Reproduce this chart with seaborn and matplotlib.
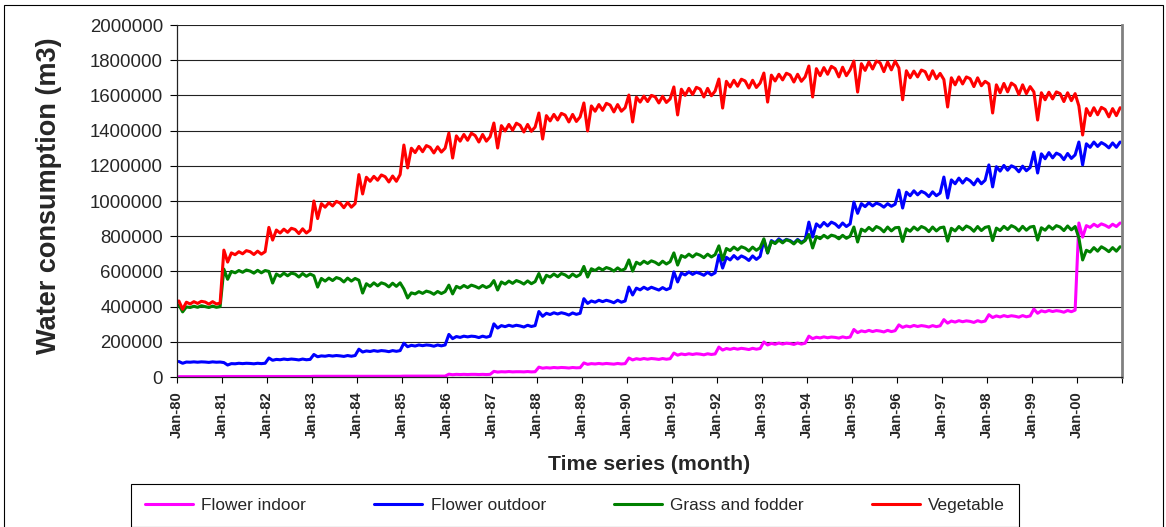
import numpy as np
import pandas as pd
import matplotlib
matplotlib.use("Agg")
import matplotlib.pyplot as plt
import seaborn as sns
from matplotlib.ticker import FuncFormatter, FixedLocator
from matplotlib.patches import Rectangle
from matplotlib.lines import Line2D

# ---------------- data (values in thousand m3, one row per year Jan..Dec) ----------------
series_names = ["Flower indoor", "Flower outdoor", "Grass and fodder", "Vegetable"]
series_colors = ["#FF00FF", "#0000FF", "#008000", "#FF0000"]
year_labels = ["Jan-80", "Jan-81", "Jan-82", "Jan-83", "Jan-84", "Jan-85", "Jan-86",
               "Jan-87", "Jan-88", "Jan-89", "Jan-90", "Jan-91", "Jan-92", "Jan-93",
               "Jan-94", "Jan-95", "Jan-96", "Jan-97", "Jan-98", "Jan-99", "Jan-00"]
y_ticks = [0, 200000, 400000, 600000, 800000, 1000000, 1200000, 1400000, 1600000,
           1800000, 2000000]

flower_indoor_k = [
    [2, 2, 2, 2, 2, 2, 2, 2, 2, 2, 2, 2],
    [3, 3, 3, 3, 3, 3, 3, 3, 3, 3, 3, 3],
    [3, 3, 3, 3, 3, 3, 3, 3, 3, 3, 3, 3],
    [4, 4, 4, 4, 4, 4, 4, 4, 4, 4, 4, 4],
    [4, 4, 4, 4, 4, 4, 4, 4, 4, 4, 4, 4],
    [5, 5, 5, 5, 5, 5, 5, 5, 5, 5, 5, 5],
    [16, 13, 15, 14, 15, 14, 15, 15, 14, 15, 14, 15],
    [32, 28, 30, 29, 31, 29, 30, 30, 29, 31, 29, 30],
    [56, 50, 53, 51, 54, 52, 54, 53, 51, 54, 52, 53],
    [80, 72, 76, 74, 77, 74, 77, 75, 73, 77, 74, 76],
    [108, 97, 104, 100, 105, 101, 105, 103, 100, 105, 101, 104],
    [136, 124, 131, 127, 132, 128, 132, 130, 126, 132, 128, 131],
    [170, 153, 162, 157, 163, 158, 163, 160, 156, 163, 158, 162],
    [199, 182, 191, 186, 193, 187, 192, 190, 185, 193, 187, 192],
    [232, 218, 226, 222, 228, 223, 227, 225, 221, 228, 223, 227],
    [270, 252, 262, 257, 265, 258, 264, 261, 256, 265, 258, 263],
    [296, 282, 290, 285, 293, 287, 292, 289, 284, 292, 286, 291],
    [326, 306, 318, 312, 320, 314, 319, 316, 310, 320, 313, 318],
    [354, 338, 347, 341, 349, 343, 348, 345, 340, 349, 342, 347],
    [386, 362, 376, 370, 378, 372, 377, 374, 368, 378, 371, 380],
    [875, 795, 860, 850, 868, 855, 870, 862, 850, 868, 855, 875],
]

flower_outdoor_k = [
    [88, 78, 85, 84, 86, 84, 86, 85, 83, 86, 84, 85],
    [82, 68, 76, 75, 78, 76, 78, 77, 75, 78, 76, 78],
    [108, 95, 100, 98, 102, 99, 102, 100, 97, 102, 98, 100],
    [128, 115, 120, 118, 122, 119, 122, 120, 117, 122, 118, 122],
    [158, 142, 148, 145, 150, 146, 150, 148, 144, 150, 146, 150],
    [192, 172, 180, 176, 182, 178, 182, 180, 175, 182, 177, 182],
    [242, 218, 230, 225, 232, 228, 232, 230, 224, 232, 226, 232],
    [302, 278, 292, 286, 294, 288, 294, 290, 284, 294, 287, 292],
    [372, 345, 362, 355, 365, 358, 365, 360, 352, 364, 356, 362],
    [445, 418, 432, 425, 436, 428, 436, 430, 422, 436, 425, 432],
    [511, 466, 505, 495, 510, 498, 510, 502, 494, 508, 496, 505],
    [597, 540, 590, 580, 597, 583, 595, 588, 578, 595, 580, 592],
    [693, 619, 680, 665, 690, 670, 688, 678, 662, 688, 668, 685],
    [778, 705, 775, 762, 785, 768, 782, 775, 760, 782, 765, 778],
    [880, 795, 870, 852, 878, 858, 880, 870, 850, 875, 855, 870],
    [994, 930, 985, 968, 990, 972, 988, 980, 965, 985, 970, 982],
    [1062, 960, 1050, 1030, 1058, 1035, 1055, 1045, 1025, 1052, 1030, 1045],
    [1136, 1017, 1120, 1098, 1130, 1102, 1128, 1115, 1092, 1125, 1098, 1118],
    [1205, 1080, 1195, 1170, 1202, 1175, 1200, 1190, 1166, 1198, 1172, 1190],
    [1278, 1159, 1268, 1240, 1275, 1245, 1272, 1262, 1235, 1270, 1242, 1262],
    [1335, 1205, 1325, 1305, 1335, 1310, 1332, 1320, 1302, 1330, 1305, 1335],
]

grass_fodder_k = [
    [410, 370, 398, 395, 402, 396, 405, 400, 395, 403, 396, 400],
    [613, 555, 600, 592, 605, 595, 608, 602, 590, 606, 592, 605],
    [600, 534, 585, 572, 590, 575, 590, 585, 568, 588, 572, 585],
    [575, 511, 560, 545, 562, 548, 565, 558, 540, 562, 545, 560],
    [550, 477, 530, 515, 535, 518, 535, 528, 512, 533, 515, 535],
    [500, 449, 478, 472, 485, 475, 488, 482, 470, 486, 474, 485],
    [522, 472, 515, 505, 520, 508, 522, 515, 505, 520, 508, 518],
    [548, 494, 540, 528, 545, 532, 548, 540, 528, 546, 530, 542],
    [588, 534, 578, 568, 585, 570, 588, 580, 565, 585, 570, 582],
    [628, 568, 615, 605, 620, 608, 622, 615, 602, 620, 605, 615],
    [665, 602, 652, 640, 658, 645, 660, 652, 638, 658, 642, 655],
    [705, 636, 690, 680, 698, 682, 700, 692, 678, 698, 682, 695],
    [745, 665, 730, 718, 738, 722, 740, 732, 716, 738, 720, 735],
    [785, 705, 770, 758, 778, 762, 780, 772, 756, 778, 760, 775],
    [810, 733, 798, 786, 805, 790, 806, 800, 785, 805, 788, 800],
    [852, 767, 840, 828, 850, 832, 855, 845, 825, 852, 830, 848],
    [850, 770, 842, 828, 852, 835, 855, 846, 826, 852, 830, 848],
    [852, 772, 845, 830, 855, 836, 858, 848, 828, 855, 832, 850],
    [855, 775, 846, 832, 856, 838, 860, 850, 830, 856, 834, 852],
    [856, 778, 848, 834, 858, 840, 860, 852, 832, 858, 836, 855],
    [790, 665, 720, 710, 735, 715, 740, 728, 712, 735, 715, 740],
]

vegetable_k = [
    [432, 385, 425, 415, 428, 418, 430, 426, 414, 428, 415, 420],
    [721, 653, 705, 695, 712, 700, 718, 712, 696, 715, 698, 712],
    [850, 778, 835, 818, 840, 822, 845, 838, 815, 842, 818, 835],
    [1000, 900, 985, 965, 990, 972, 998, 988, 962, 992, 965, 985],
    [1150, 1040, 1135, 1112, 1140, 1118, 1148, 1138, 1108, 1142, 1112, 1150],
    [1318, 1188, 1300, 1275, 1310, 1280, 1315, 1305, 1273, 1308, 1278, 1300],
    [1386, 1244, 1370, 1340, 1378, 1345, 1385, 1372, 1335, 1378, 1340, 1365],
    [1443, 1301, 1428, 1398, 1435, 1402, 1442, 1430, 1392, 1435, 1396, 1420],
    [1500, 1352, 1485, 1455, 1492, 1460, 1498, 1488, 1449, 1492, 1452, 1478],
    [1557, 1398, 1540, 1510, 1548, 1515, 1555, 1545, 1506, 1548, 1510, 1530],
    [1602, 1449, 1590, 1562, 1596, 1565, 1600, 1592, 1557, 1595, 1560, 1580],
    [1648, 1489, 1635, 1600, 1640, 1605, 1646, 1636, 1591, 1640, 1598, 1625],
    [1693, 1528, 1680, 1648, 1686, 1652, 1692, 1682, 1642, 1686, 1645, 1670],
    [1727, 1562, 1715, 1682, 1720, 1688, 1726, 1716, 1676, 1720, 1680, 1705],
    [1767, 1591, 1752, 1712, 1758, 1720, 1765, 1752, 1705, 1760, 1712, 1745],
    [1795, 1619, 1780, 1742, 1790, 1750, 1795, 1785, 1735, 1790, 1745, 1795],
    [1756, 1575, 1740, 1700, 1738, 1705, 1744, 1735, 1690, 1740, 1695, 1725],
    [1690, 1534, 1700, 1660, 1705, 1665, 1705, 1695, 1650, 1700, 1655, 1680],
    [1665, 1500, 1660, 1615, 1668, 1620, 1670, 1655, 1605, 1660, 1610, 1650],
    [1620, 1460, 1615, 1575, 1618, 1580, 1620, 1610, 1565, 1615, 1570, 1610],
    [1540, 1375, 1525, 1485, 1530, 1490, 1532, 1520, 1478, 1525, 1485, 1530],
]

# ---------------- build long table ----------------
all_series = [flower_indoor_k, flower_outdoor_k, grass_fodder_k, vegetable_k]
frames = []
for name, rows in zip(series_names, all_series):
    vals = np.array(rows, dtype=float).ravel() * 1000.0
    frames.append(pd.DataFrame({"month": np.arange(len(vals)) + 0.5,
                                "value": vals, "series": name}))
df = pd.concat(frames, ignore_index=True)
n_months = len(np.array(flower_indoor_k).ravel())

# ---------------- style ----------------
sns.set_style("white")
plt.rcParams["font.family"] = ["Liberation Sans", "DejaVu Sans"]

W, H = 1166, 527
fig = plt.figure(figsize=(W / 100, H / 100), dpi=100)
L, R, T, B = 177, 1122, 25, 377
ax = fig.add_axes([L / W, 1 - B / H, (R - L) / W, (B - T) / H])

sns.lineplot(data=df, x="month", y="value", hue="series", hue_order=series_names,
             palette=series_colors, linewidth=2.2, estimator=None, sort=False,
             legend=False, ax=ax)

ax.set_xlim(0, n_months)
ax.set_ylim(0, 2000000)

# x ticks: every January, plus closing tick
xt = list(range(0, n_months + 1, 12))
ax.xaxis.set_major_locator(FixedLocator(xt))
ax.set_xticklabels(year_labels + [""][: len(xt) - len(year_labels)],
                   rotation=90, fontweight="bold", fontsize=10.6)
ax.yaxis.set_major_locator(FixedLocator(y_ticks))
ax.yaxis.set_major_formatter(FuncFormatter(lambda v, p: f"{int(round(v))}"))
ax.tick_params(axis="y", labelsize=13.4, length=5, width=0.8, pad=5, direction="out",
               left=True, color="black")
ax.tick_params(axis="x", length=4.5, width=0.8, pad=6, direction="out", bottom=True,
               color="black")

ax.yaxis.grid(True, color="#222222", linewidth=0.8)
ax.xaxis.grid(False)
ax.set_axisbelow(True)

for s in ["left", "bottom"]:
    ax.spines[s].set_color("#222222")
    ax.spines[s].set_linewidth(0.9)
ax.spines["top"].set_visible(False)
ax.spines["right"].set_color("#808080")
ax.spines["right"].set_linewidth(2.0)

ax.set_ylabel("Water consumption (m3)", fontsize=19.5, fontweight="bold")
ax.yaxis.label.set_verticalalignment("center")
ax.yaxis.set_label_coords((49 - L) / (R - L), (B - 196) / (B - T))
ax.set_xlabel("Time series (month)", fontsize=15.3, fontweight="bold")
ax.xaxis.label.set_verticalalignment("center")
ax.xaxis.set_label_coords(0.5, (B - 464) / (B - T))

# legend
handles = [Line2D([0], [0], color=c, lw=2.2) for c in series_colors]
leg = fig.legend(handles, series_names, loc="upper center", ncol=4,
                 bbox_to_anchor=(575 / W, 1 - 484 / H), frameon=True, fancybox=False,
                 edgecolor="black", framealpha=1, fontsize=12.4, handlelength=2.8,
                 handletextpad=0.47, columnspacing=3.95, borderpad=0.8,
                 borderaxespad=0)
leg.get_frame().set_linewidth(0.8)

# outer chart border
fig.patches.append(Rectangle((4 / W, -0.1), (1163 - 4) / W, 1.1 - 5 / H,
                             transform=fig.transFigure, fill=False,
                             edgecolor="black", linewidth=0.8))

fig.savefig("out.png", dpi=100)
